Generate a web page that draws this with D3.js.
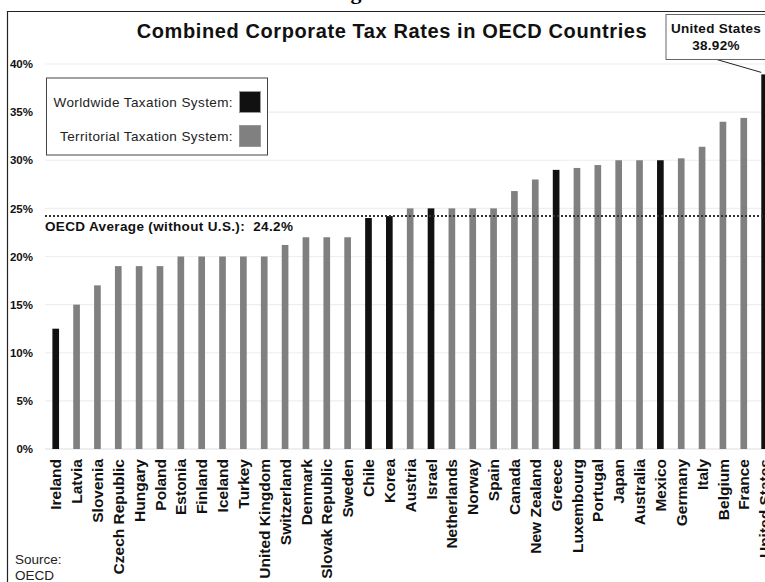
<!DOCTYPE html>
<html>
<head>
<meta charset="utf-8">
<script src="https://cdn.jsdelivr.net/npm/d3@7"></script>
<style>
  body { margin: 0; background: #fff; }
  svg { display: block; font-family: "Liberation Sans", Arial, sans-serif; }
</style>
</head>
<body>
<svg id="chart" width="765" height="582"></svg>
<script>
// countries sorted by rate, with taxation system
const countries = ["Ireland", "Latvia", "Slovenia", "Czech Republic", "Hungary", "Poland", "Estonia",
  "Finland", "Iceland", "Turkey", "United Kingdom", "Switzerland", "Denmark", "Slovak Republic",
  "Sweden", "Chile", "Korea", "Austria", "Israel", "Netherlands", "Norway", "Spain", "Canada",
  "New Zealand", "Greece", "Luxembourg", "Portugal", "Japan", "Australia", "Mexico", "Germany",
  "Italy", "Belgium", "France", "United States"]
const rates = [12.5, 15, 17, 19, 19, 19, 20, 20, 20, 20, 20, 21.2, 22, 22, 22, 24, 24.2, 25, 25,
  25, 25, 25, 26.8, 28, 29, 29.2, 29.5, 30, 30, 30, 30.2, 31.4, 34, 34.4, 38.92]
// W = worldwide, T = territorial
const systems = ["W", "T", "T", "T", "T", "T", "T", "T", "T", "T", "T", "T", "T", "T", "T", "W", "W",
  "T", "W", "T", "T", "T", "T", "T", "W", "T", "T", "T", "T", "W", "T", "T", "T", "T", "W"]
const yTicks = [0, 5, 10, 15, 20, 25, 30, 35, 40]
const oecdAverage = 24.2

const data = countries.map((c, i) => ({ country: c, rate: rates[i], system: systems[i] }))

const svg = d3.select('#chart')
const step = 20.85
const x = d3.scaleBand().domain(countries).range([45.3, 45.3 + step * countries.length]).padding(0)
const y = d3.scaleLinear().domain([0, 40]).range([449, 64])
const barW = x.bandwidth() * 0.32
const color = { W: '#111111', T: '#808080' }

// cropped heading above the frame
svg.append('text')
  .attr('x', 331).attr('y', -1)
  .attr('font-family', '"Liberation Serif", serif')
  .attr('font-weight', 'bold').attr('font-size', 22)
  .text('Figure')

// frame
svg.append('line').attr('x1', 8).attr('x2', 765).attr('y1', 11.5).attr('y2', 11.5)
  .attr('stroke', '#222').attr('stroke-width', 1.2)
svg.append('line').attr('x1', 7.5).attr('x2', 7.5).attr('y1', 11).attr('y2', 582)
  .attr('stroke', '#222').attr('stroke-width', 1.2)

// title
svg.append('text')
  .attr('x', 392).attr('y', 38)
  .attr('text-anchor', 'middle')
  .attr('font-weight', 'bold').attr('font-size', 20)
  .attr('letter-spacing', 0.6)
  .attr('fill', '#111')
  .text('Combined Corporate Tax Rates in OECD Countries')

// gridlines
svg.append('g').selectAll('line')
  .data(yTicks)
  .enter().append('line')
  .attr('x1', 45).attr('x2', 765)
  .attr('y1', d => y(d)).attr('y2', d => y(d))
  .attr('stroke', d => d === 0 ? '#dddddd' : '#eeeeee')
  .attr('stroke-width', 1.2)

// y axis labels
const yAxis = d3.axisLeft(y).tickValues(yTicks).tickFormat(d => d + '%').tickSize(0).tickPadding(0)
svg.append('g')
  .attr('transform', 'translate(33,0)')
  .call(yAxis)
  .call(g => g.select('.domain').remove())
  .call(g => g.selectAll('text')
    .attr('font-family', '"Liberation Sans", Arial, sans-serif')
    .attr('font-weight', 'bold').attr('font-size', 11.5).attr('fill', '#111'))

// bars
svg.append('g').selectAll('rect')
  .data(data)
  .enter().append('rect')
  .attr('x', d => x(d.country) + (x.bandwidth() - barW) / 2)
  .attr('y', d => y(d.rate))
  .attr('width', barW)
  .attr('height', d => y(0) - y(d.rate))
  .attr('fill', d => color[d.system])

// country labels
svg.append('g').selectAll('text')
  .data(data)
  .enter().append('text')
  .attr('transform', d => `translate(${x(d.country) + x.bandwidth() / 2},459) rotate(-90)`)
  .attr('dy', '0.36em')
  .attr('text-anchor', 'end')
  .attr('font-weight', 'bold').attr('font-size', 15.5)
  .attr('fill', '#111')
  .text(d => d.country)

// OECD average line
svg.append('line')
  .attr('x1', 45).attr('x2', 765)
  .attr('y1', y(oecdAverage)).attr('y2', y(oecdAverage))
  .attr('stroke', '#333').attr('stroke-width', 2)
  .attr('stroke-dasharray', '2,2')
svg.append('text')
  .attr('x', 45).attr('y', y(oecdAverage) + 15)
  .attr('font-weight', 'bold').attr('font-size', 13.5)
  .attr('letter-spacing', 0.35)
  .attr('fill', '#111')
  .attr('xml:space', 'preserve')
  .text('OECD Average (without U.S.):  ' + oecdAverage + '%')

// legend
const legend = svg.append('g')
legend.append('rect')
  .attr('x', 46.5).attr('y', 78).attr('width', 221).attr('height', 77)
  .attr('fill', '#fff').attr('stroke', '#444').attr('stroke-width', 1)
const legendItems = [
  { label: 'Worldwide Taxation System:', key: 'W' },
  { label: 'Territorial Taxation System:', key: 'T' }
]
legendItems.forEach((d, i) => {
  legend.append('text')
    .attr('x', 233).attr('y', 107 + i * 34)
    .attr('text-anchor', 'end')
    .attr('font-size', 13.5).attr('letter-spacing', 0.4).attr('fill', '#222')
    .text(d.label)
  legend.append('rect')
    .attr('x', 239.5).attr('y', 91.5 + i * 34).attr('width', 21).attr('height', 21)
    .attr('fill', color[d.key]).attr('stroke', '#999').attr('stroke-width', 1)
})

// United States callout
const us = data[data.length - 1]
svg.append('line')
  .attr('x1', 715).attr('y1', 59)
  .attr('x2', x(us.country) + (x.bandwidth() - barW) / 2).attr('y2', y(us.rate) - 2)
  .attr('stroke', '#222').attr('stroke-width', 1)
svg.append('rect')
  .attr('x', 666).attr('y', 14.5).attr('width', 110).attr('height', 45)
  .attr('fill', '#fff').attr('stroke', '#666').attr('stroke-width', 1)
svg.append('text')
  .attr('x', 716).attr('y', 33)
  .attr('text-anchor', 'middle')
  .attr('font-weight', 'bold').attr('font-size', 13.5).attr('letter-spacing', 0.3).attr('fill', '#111')
  .text(us.country)
svg.append('text')
  .attr('x', 716).attr('y', 50)
  .attr('text-anchor', 'middle')
  .attr('font-weight', 'bold').attr('font-size', 13.5).attr('letter-spacing', 0.3).attr('fill', '#111')
  .text(us.rate + '%')

// source note
svg.append('text').attr('x', 15).attr('y', 564)
  .attr('font-size', 13.5).attr('fill', '#222').text('Source:')
svg.append('text').attr('x', 15).attr('y', 580)
  .attr('font-size', 13.5).attr('fill', '#222').text('OECD')
</script>
</body>
</html>
